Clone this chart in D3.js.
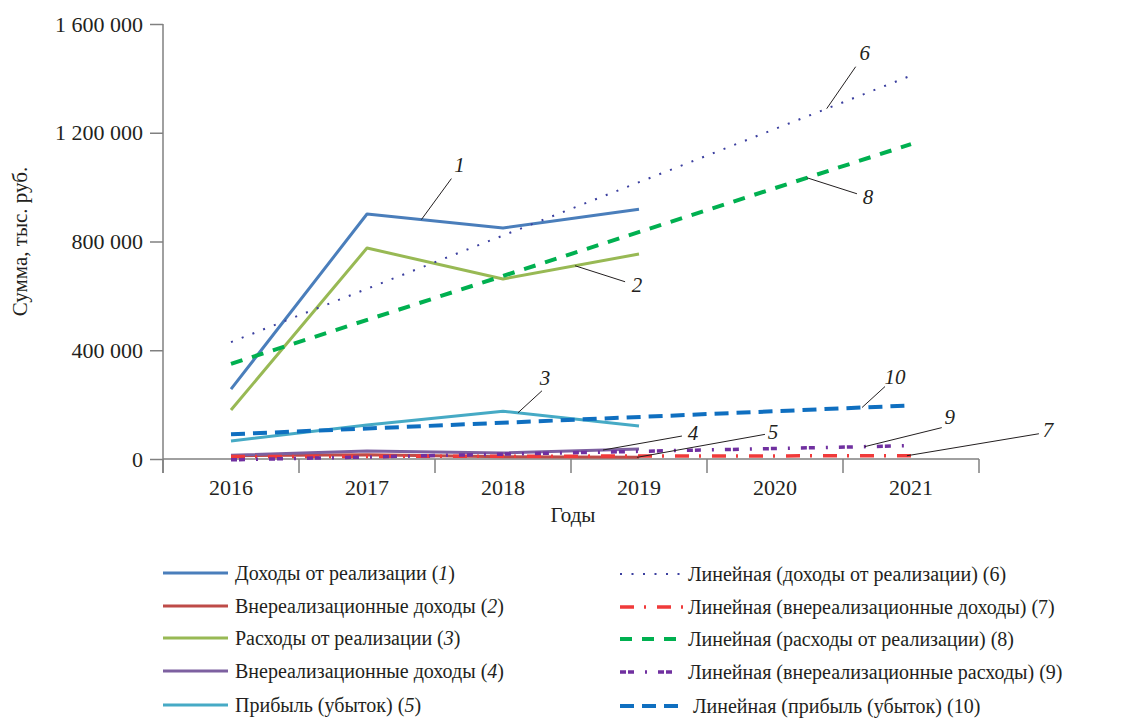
<!DOCTYPE html>
<meta charset="utf-8">
<script src="https://d3js.org/d3.v7.min.js"></script>
<div id="my_dataviz"></div>

<script>

// years on the x axis
var years = ["2016", "2017", "2018", "2019", "2020", "2021"];

// actual values, thous. rub. (2016-2019)
var dohodyReal = [257000, 901000, 850000, 919000];
var vnerDohody = [12000, 16000, 8000, 6000];
var rashodyReal = [180000, 776000, 662000, 754000];
var vnerDohody4 = [14000, 29000, 22000, 37000];
var pribyl = [66000, 125000, 176000, 121000];

// linear trends, value at 2016 and at 2021
var trendDohody = [430000, 1410000];
var trendVner = [9000, 12000];
var trendRashody = [350000, 1158000];
var trendVnerRash = [-3000, 49000];
var trendPribyl = [91000, 197000];

var yTicks = [0, 400000, 800000, 1200000, 1600000];

var ink = "#231f20";

d3.select("body").style("margin", "0px");

// set the dimensions and margins of the graph
var margin = {top: 24, right: 148, bottom: 259, left: 163},
  width = 1127 - margin.left - margin.right,
  height = 718 - margin.top - margin.bottom;

var root = d3.select("#my_dataviz")
.append("svg")
  .attr("width", 1127)
  .attr("height", 718)
  .attr("font-family", "Liberation Serif");
var svg = root.append("g")
  .attr("transform", "translate(" + margin.left + "," + margin.top + ")");

// helper: serif text
function label(sel, size) {
  return sel.append("text")
    .attr("fill", ink)
    .attr("font-family", "Liberation Serif")
    .attr("font-size", size);
}

// scales
var x = d3.scaleBand()
  .range([0, width])
  .domain(years)
  .padding(0);
var bw = x.bandwidth();
// fractional year index -> px (centre of band)
var xi = d3.scaleLinear()
  .domain([0, years.length - 1])
  .range([x(years[0]) + bw / 2, x(years[years.length - 1]) + bw / 2]);

var y = d3.scaleLinear()
  .domain([0, 1600000])
  .range([height, 0]);

var axisColor = "#808080";

// y axis: ticks from d3, labels drawn as own texts
var yAxis = svg.append("g")
  .call(d3.axisLeft(y)
    .tickValues(yTicks)
    .tickSize(13)
    .tickSizeOuter(0)
    .tickFormat(""));
yAxis.select(".domain").remove();
yAxis.selectAll(".tick line").attr("stroke", axisColor).attr("stroke-width", 1.5);

yTicks.forEach(function(d) {
  label(svg, 22)
    .attr("x", -20)
    .attr("y", y(d))
    .attr("dy", "0.35em")
    .attr("text-anchor", "end")
    .text(d3.format(",")(d).replace(/,/g, " "));
});

svg.append("line")
  .attr("x1", 0).attr("x2", 0)
  .attr("y1", 0).attr("y2", height + 14)
  .attr("stroke", axisColor).attr("stroke-width", 1.5);

// x axis
svg.append("line")
  .attr("x1", 0).attr("x2", width)
  .attr("y1", y(0)).attr("y2", y(0))
  .attr("stroke", axisColor).attr("stroke-width", 1.5);

var bounds = years.map(function(d) { return x(d); }).concat([width]);
bounds.forEach(function(d) {
  svg.append("line")
    .attr("x1", d).attr("x2", d)
    .attr("y1", y(0)).attr("y2", y(0) + 14)
    .attr("stroke", axisColor).attr("stroke-width", 1.5);
});

years.forEach(function(d) {
  label(svg, 22)
    .attr("x", x(d) + bw / 2)
    .attr("y", y(0) + 36)
    .attr("text-anchor", "middle")
    .text(d);
});

// axis titles
label(svg, 21)
  .attr("x", width / 2 + 2)
  .attr("y", y(0) + 63)
  .attr("text-anchor", "middle")
  .text("Годы");

label(svg, 21)
  .attr("transform", "translate(" + (20 - margin.left) + "," + (height / 2) + ") rotate(-90)")
  .attr("dy", "0.35em")
  .attr("text-anchor", "middle")
  .text("Сумма, тыс. руб.");

// series and trend styles
var series = [
  {values: dohodyReal, color: "#4a7ebb", width: 3, name: "Доходы от реализации", num: "1"},
  {values: vnerDohody, color: "#be4b48", width: 3, name: "Внереализационные доходы", num: "2"},
  {values: rashodyReal, color: "#98b954", width: 3, name: "Расходы от реализации", num: "3"},
  {values: vnerDohody4, color: "#7d60a0", width: 3, name: "Внереализационные доходы", num: "4"},
  {values: pribyl, color: "#46aac5", width: 3, name: "Прибыль (убыток)", num: "5"}
];
var trends = [
  {values: trendDohody, color: "#3b3f9f", width: 2, dash: "2,9.5", name: "Линейная (доходы от реализации) (6)"},
  {values: trendVner, color: "#f03a3a", width: 3.5, dash: "14,10,2,11", name: "Линейная (внереализационные доходы) (7)"},
  {values: trendRashody, color: "#00b050", width: 4, dash: "12,10", name: "Линейная (расходы от реализации) (8)"},
  {values: trendVnerRash, color: "#7030a0", width: 3.5, dash: "6,2,6,11,2,11", name: "Линейная (внереализационные расходы) (9)"},
  {values: trendPribyl, color: "#0f6fc0", width: 4, dash: "14,8", name: "Линейная (прибыль (убыток) (10)"}
];

var line = d3.line()
  .x(function(d) { return xi(d[0]); })
  .y(function(d) { return y(d[1]); });

series.forEach(function(s) {
  svg.append("path")
    .datum(s.values.map(function(v, i) { return [i, v]; }))
    .attr("d", line)
    .attr("fill", "none")
    .attr("stroke", s.color)
    .attr("stroke-width", s.width)
    .attr("stroke-linejoin", "round");
});

trends.forEach(function(s) {
  svg.append("path")
    .datum([[0, s.values[0]], [years.length - 1, s.values[1]]])
    .attr("d", line)
    .attr("fill", "none")
    .attr("stroke", s.color)
    .attr("stroke-width", s.width)
    .attr("stroke-dasharray", s.dash);
});

// value on a series / trend at fractional year index t
function valueAt(vals, t, isTrend) {
  if (isTrend) return vals[0] + (vals[1] - vals[0]) * t / (years.length - 1);
  var i = Math.min(Math.floor(t), vals.length - 2), f = t - i;
  return vals[i] + (vals[i + 1] - vals[i]) * f;
}

// callout labels: anchor on a line, leader end offset, label offset
var callouts = [
  {label: "1", vals: dohodyReal, trend: false, t: 1.40, lx: 30, ly: -41, tx: 38, ty: -55},
  {label: "2", vals: rashodyReal, trend: false, t: 2.53, lx: 50, ly: 16, tx: 62, ty: 19},
  {label: "3", vals: pribyl, trend: false, t: 2.11, lx: 24, ly: -22, tx: 27, ty: -35},
  {label: "4", vals: vnerDohody4, trend: false, t: 2.735, lx: 79, ly: -14, tx: 90, ty: -17},
  {label: "5", vals: vnerDohody, trend: false, t: 2.985, lx: 128, ly: -23, tx: 136, ty: -26},
  {label: "6", vals: trendDohody, trend: true, t: 4.38, lx: 29, ly: -42, tx: 38, ty: -56},
  {label: "7", vals: trendVner, trend: true, t: 4.97, lx: 132, ly: -22, tx: 141, ty: -26},
  {label: "8", vals: trendRashody, trend: true, t: 4.235, lx: 50, ly: 16, tx: 61, ty: 19},
  {label: "9", vals: trendVnerRash, trend: true, t: 4.66, lx: 77, ly: -19, tx: 85, ty: -30},
  {label: "10", vals: trendPribyl, trend: true, t: 4.64, lx: 23, ly: -21, tx: 33, ty: -31}
];

callouts.forEach(function(c) {
  var ax = xi(c.t), ay = y(valueAt(c.vals, c.t, c.trend));
  svg.append("line")
    .attr("x1", ax).attr("y1", ay)
    .attr("x2", ax + c.lx).attr("y2", ay + c.ly)
    .attr("stroke", ink).attr("stroke-width", 1);
  label(svg, 21)
    .attr("x", ax + c.tx).attr("y", ay + c.ty)
    .attr("dy", "0.35em")
    .attr("text-anchor", "middle")
    .attr("font-style", "italic")
    .text(c.label);
});

// legend
var legY = [573, 606, 638, 671, 705];
var leg = root.append("g");

series.forEach(function(s, i) {
  leg.append("line")
    .attr("x1", 163).attr("x2", 228)
    .attr("y1", legY[i]).attr("y2", legY[i])
    .attr("stroke", s.color).attr("stroke-width", s.width);
  var t = label(leg, 20)
    .attr("x", 235).attr("y", legY[i])
    .attr("dy", "0.35em");
  t.append("tspan").text(s.name + " (");
  t.append("tspan").attr("font-style", "italic").text(s.num);
  t.append("tspan").text(")");
});

trends.forEach(function(s, i) {
  leg.append("line")
    .attr("x1", 620).attr("x2", 683)
    .attr("y1", legY[i] + 1).attr("y2", legY[i] + 1)
    .attr("stroke", s.color).attr("stroke-width", s.width)
    .attr("stroke-dasharray", s.dash);
  label(leg, 20)
    .attr("x", i == 4 ? 693 : 688).attr("y", legY[i] + 1)
    .attr("dy", "0.35em")
    .text(s.name);
});

</script>
